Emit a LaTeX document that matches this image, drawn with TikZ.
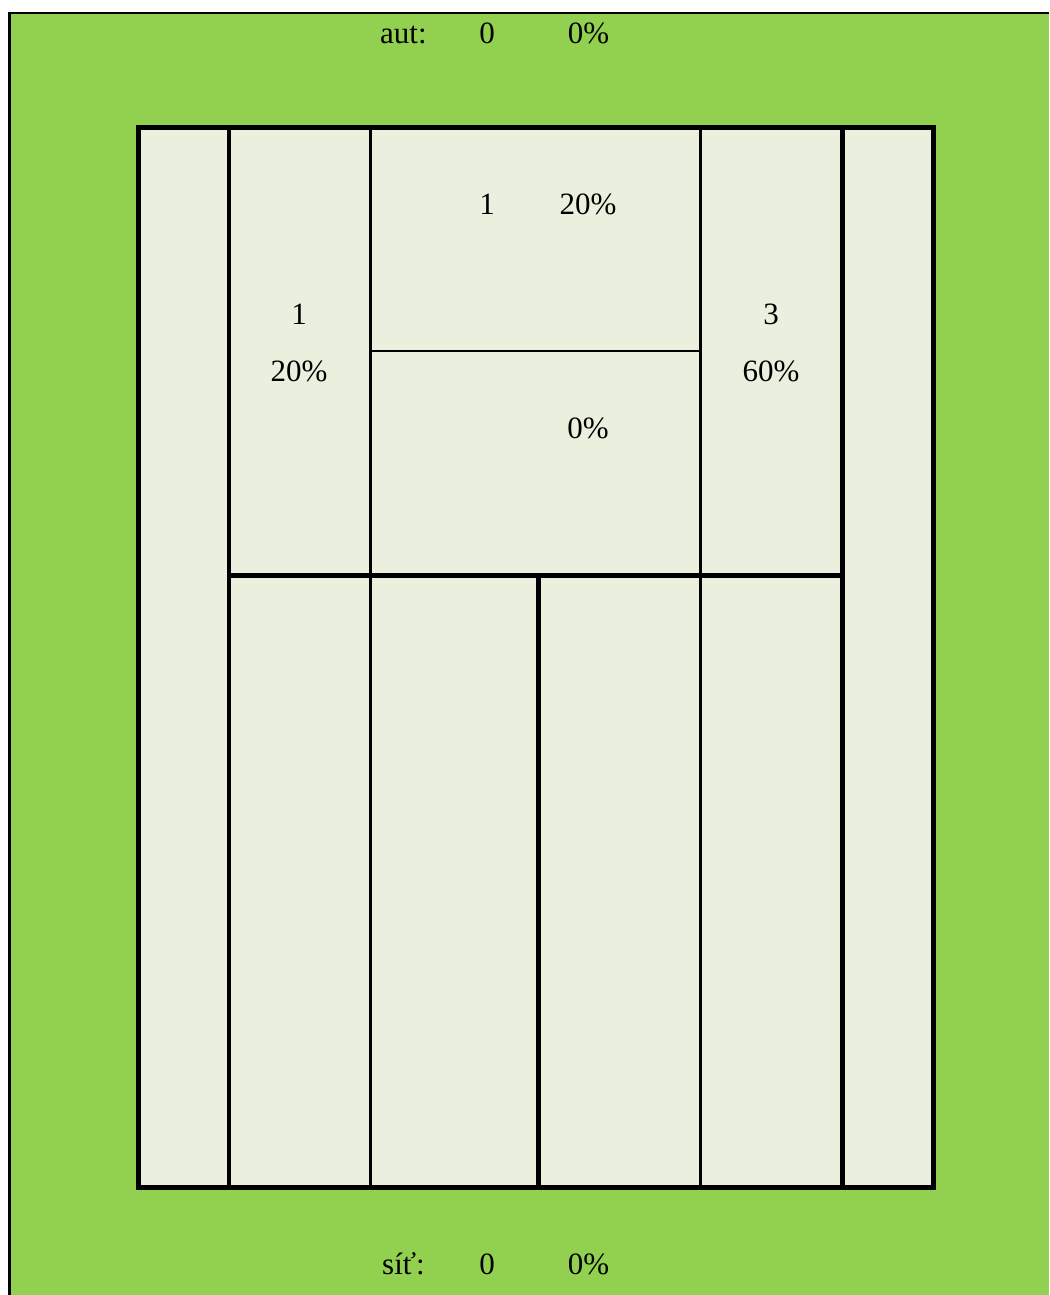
\documentclass[tikz,border=0pt]{standalone}
\usepackage{fontspec}
\setmainfont{Liberation Serif}
\definecolor{grass}{HTML}{92D050}
\definecolor{court}{HTML}{EBF0DE}
\tikzset{
  lbl/.style={anchor=base, inner sep=0pt, font=\fontsize{31}{36}\selectfont},
  lbll/.style={anchor=base west, inner sep=0pt, font=\fontsize{31}{36}\selectfont},
  thick line/.style={line width=5pt},
  mid line/.style={line width=4pt},
  thin line/.style={line width=3pt},
  hair line/.style={line width=2.5pt},
}
\begin{document}
\begin{tikzpicture}[x=1pt,y=-1pt]
\useasboundingbox (0,0) rectangle (1049,1295);
% grass
\fill[grass] (9.5,13) rectangle (1049,1295);
\draw[line width=2.5pt] (8,13) -- (1049,13);
\draw[line width=3pt] (9.5,12) -- (9.5,1295);
% court
\fill[court] (138.5,127.5) rectangle (933.3,1187.5);
% inner lines
\draw[mid line] (228.7,127.5) -- (228.7,1187.5);
\draw[thick line] (842.5,127.5) -- (842.5,1187.5);
\draw[thin line] (370.7,127.5) -- (370.7,1187.5);
\draw[thin line] (700.5,127.5) -- (700.5,1187.5);
\draw[hair line] (370.7,351) -- (700.5,351);
\draw[thick line] (228.7,575.3) -- (842.5,575.3);
\draw[thick line] (538.5,575.3) -- (538.5,1187.5);
% outer court
\draw[thick line] (138.5,127.5) rectangle (933.3,1187.5);
% texts
\node[lbll] (aut) at (380,44) {aut:};
\node[lbl] (autn) at (487,44) {0};
\node[lbl] (autp) at (588.5,44) {0\%};
\node[lbll] (sit) at (382,1274) {síť:};
\node[lbl] (sitn) at (487,1274) {0};
\node[lbl] (sitp) at (588.5,1274) {0\%};
\node[lbl] (tn) at (487,214) {1};
\node[lbl] (tp) at (588,214) {20\%};
\node[lbl] (ln) at (299,324) {1};
\node[lbl] (lp) at (299,381.5) {20\%};
\node[lbl] (rn) at (771,324) {3};
\node[lbl] (rp) at (771,381.5) {60\%};
\node[lbl] (bp) at (588,438) {0\%};
\end{tikzpicture}
\end{document}
